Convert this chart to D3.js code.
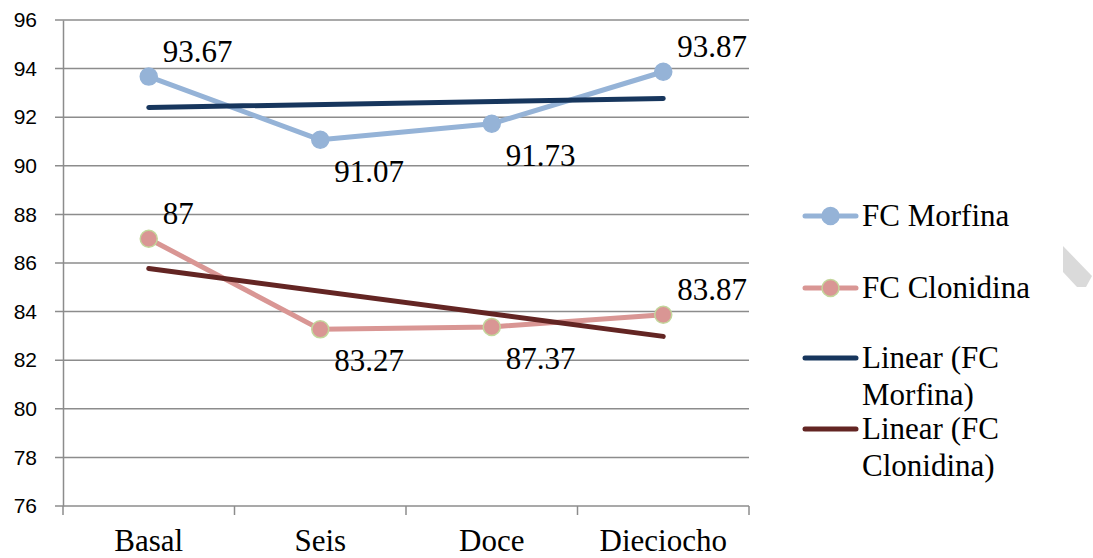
<!DOCTYPE html>
<html>
<head>
<meta charset="utf-8">
<script src="https://cdn.jsdelivr.net/npm/d3@7"></script>
<style>
  body { margin: 0; background: #fff; }
  svg { display: block; }
</style>
</head>
<body>
<div id="chart"></div>
<script>
// data
const categories = ["Basal", "Seis", "Doce", "Dieciocho"];
const morfina = [93.67, 91.07, 91.73, 93.87];
const clonidina = [87, 83.27, 83.37, 83.87];
// labels as printed on the chart (the third pink one reads 87.37)
const morfinaLabels = ["93.67", "91.07", "91.73", "93.87"];
const clonidinaLabels = ["87", "83.27", "87.37", "83.87"];
// trend line end values (first and last category)
const morfinaTrend = [92.4, 92.77];
const clonidinaTrend = [85.77, 82.98];
const yTicks = [76, 78, 80, 82, 84, 86, 88, 90, 92, 94, 96];
const legendNames = ["FC Morfina", "FC Clonidina", "Linear (FC Morfina)", "Linear (FC Clonidina)"];

const serif = '"Liberation Serif", serif';
const sans = '"Liberation Sans", sans-serif';

const width = 1093, height = 558;
const margin = { top: 20, right: 344, bottom: 52, left: 63 };

const svg = d3.select("#chart").append("svg")
  .attr("width", width)
  .attr("height", height);

const x = d3.scaleBand()
  .domain(categories)
  .range([margin.left, width - margin.right]);

const y = d3.scaleLinear()
  .domain([76, 96])
  .range([height - margin.bottom, margin.top]);

const cx = d => x(d) + x.bandwidth() / 2;

// grid lines
svg.append("g")
  .selectAll("line")
  .data(yTicks)
  .join("line")
  .attr("x1", margin.left - 8)
  .attr("x2", width - margin.right)
  .attr("y1", d => y(d))
  .attr("y2", d => y(d))
  .attr("stroke", "#8c8c8c")
  .attr("stroke-width", 1.5);

// y axis
svg.append("g")
  .attr("transform", `translate(${margin.left},0)`)
  .call(d3.axisLeft(y).tickValues(yTicks).tickSize(0).tickPadding(26))
  .call(g => g.select(".domain").attr("stroke", "#8c8c8c").attr("stroke-width", 1.5))
  .call(g => g.selectAll("text")
    .style("font-family", sans)
    .style("font-size", "21px")
    .attr("fill", "#000"));

// x axis
svg.append("g")
  .attr("transform", `translate(0,${height - margin.bottom})`)
  .call(d3.axisBottom(x).tickSize(0).tickPadding(23))
  .call(g => g.select(".domain").remove())
  .call(g => g.selectAll("text")
    .style("font-family", serif)
    .style("font-size", "31px")
    .attr("fill", "#000"));

// x tick marks at band edges
const edges = categories.map(c => x(c)).concat([x.range()[1]]);
svg.append("g")
  .selectAll("line")
  .data(edges)
  .join("line")
  .attr("x1", d => d)
  .attr("x2", d => d)
  .attr("y1", height - margin.bottom)
  .attr("y2", height - margin.bottom + 9)
  .attr("stroke", "#8c8c8c")
  .attr("stroke-width", 1.5);

const line = d3.line()
  .x((d, i) => cx(categories[i]))
  .y(d => y(d));

// series
const series = [
  { values: morfina, labels: morfinaLabels, color: "#95b3d7", markerStroke: "#95b3d7" },
  { values: clonidina, labels: clonidinaLabels, color: "#d99694", markerStroke: "#c3d69b" }
];

series.forEach(s => {
  svg.append("path")
    .datum(s.values)
    .attr("d", line)
    .attr("fill", "none")
    .attr("stroke", s.color)
    .attr("stroke-width", 5)
    .attr("stroke-linejoin", "round");
});

// trend lines
const trends = [
  { values: morfinaTrend, color: "#17365d" },
  { values: clonidinaTrend, color: "#632523" }
];
trends.forEach(t => {
  svg.append("line")
    .attr("x1", cx(categories[0]))
    .attr("x2", cx(categories[categories.length - 1]))
    .attr("y1", y(t.values[0]))
    .attr("y2", y(t.values[1]))
    .attr("stroke", t.color)
    .attr("stroke-width", 5)
    .attr("stroke-linecap", "round");
});

// markers and labels
series.forEach(s => {
  svg.append("g")
    .selectAll("circle")
    .data(s.values)
    .join("circle")
    .attr("cx", (d, i) => cx(categories[i]))
    .attr("cy", d => y(d))
    .attr("r", 8.5)
    .attr("fill", s.color)
    .attr("stroke", s.markerStroke)
    .attr("stroke-width", 1.5);

  // first and last labels sit above the point, middle ones below
  svg.append("g")
    .selectAll("text")
    .data(s.values)
    .join("text")
    .attr("x", (d, i) => cx(categories[i]) + 14)
    .attr("y", (d, i) => y(d) + ((i === 0 || i === categories.length - 1) ? -15 : 42))
    .style("font-family", serif)
    .style("font-size", "31px")
    .attr("fill", "#000")
    .text((d, i) => s.labels[i]);
});

// legend
const legendItems = [
  { name: legendNames[0], color: "#95b3d7", marker: true, markerStroke: "#95b3d7", y: 216, lines: ["FC Morfina"] },
  { name: legendNames[1], color: "#d99694", marker: true, markerStroke: "#c3d69b", y: 288, lines: ["FC Clonidina"] },
  { name: legendNames[2], color: "#17365d", marker: false, y: 358, lines: ["Linear (FC", "Morfina)"] },
  { name: legendNames[3], color: "#632523", marker: false, y: 429, lines: ["Linear (FC", "Clonidina)"] }
];

const legend = svg.append("g");
legendItems.forEach(item => {
  const g = legend.append("g").attr("transform", `translate(0,${item.y})`);
  g.append("line")
    .attr("x1", 805).attr("x2", 856)
    .attr("stroke", item.color)
    .attr("stroke-width", 5)
    .attr("stroke-linecap", "round");
  if (item.marker) {
    g.append("circle")
      .attr("cx", 830.5)
      .attr("r", 8.5)
      .attr("fill", item.color)
      .attr("stroke", item.markerStroke)
      .attr("stroke-width", 1.5);
  }
  g.append("text")
    .attr("x", 862)
    .attr("y", 10)
    .style("font-family", serif)
    .style("font-size", "31px")
    .attr("fill", "#000")
    .selectAll("tspan")
    .data(item.lines)
    .join("tspan")
    .attr("x", 862)
    .attr("dy", (d, i) => i === 0 ? 0 : 37)
    .text(d => d);
});

// grey corner shape on the right edge
svg.append("path")
  .attr("d", "M1063,246 L1092,276 L1086,287 L1077,287 L1063,272 Z")
  .attr("fill", "#dadada");
</script>
</body>
</html>
